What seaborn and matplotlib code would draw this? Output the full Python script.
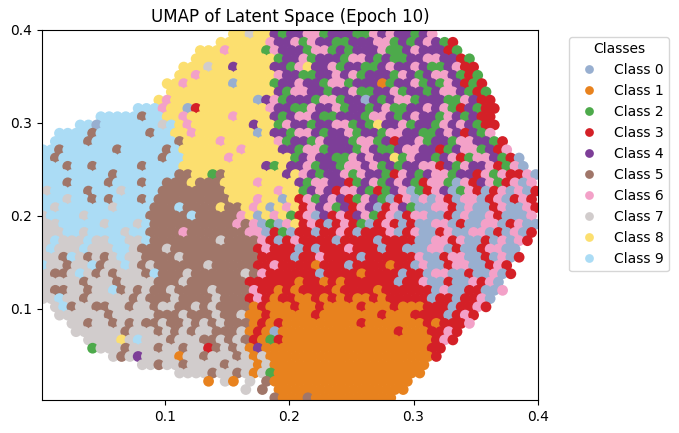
import matplotlib
matplotlib.use("Agg")
import matplotlib.pyplot as plt
import pandas as pd
import seaborn as sns

class_names = [f"Class {i}" for i in range(10)]
class_colors = ["#98afd0", "#e8821e", "#4daa4b", "#d42027", "#7d3e98",
                "#a07669", "#f3a1c8", "#d1cccc", "#fcdf6f", "#abdcf5"]

# class seen in each cell of a 60 x 45 grid over [0, 0.4] x [0, 0.4],
# top row first; row_start = first column used, "." = empty cell
row_start = [23, 21, 19, 18, 17, 16, 15, 15, 14, 11,
             7, 4, 2, 1, 0, 0, 0, 0, 0, 0,
             0, 0, 0, 0, 0, 0, 0, 0, 0, 0,
             0, 0, 0, 1, 2, 3, 4, 5, 6, 8,
             12, 16, 20, 24, 28]
row_cells = [
    "88788" "42446624442264644246",
    "8888886" "4462644224446624246423",
    "88868888" "264442662424446224644432",
    "888888888" "8244624442664242244664432",
    "88878848888" "4426844624422464464224633",
    "886888888888" "6442244646244426424664232",
    "8868888808888" "24464426624441244624264323",
    "888888888888" "842664424462244624424664232",
    "8688888888880" "4624442662440424662444226433",
    "999" "6880388888888" "6442264462442462244646234233",
    "99999599" "8868888868888" "424664224442664246442642433",
    "990999999979" "868888888488" "264424466242844624426464233",
    "99995999999599" "886888888808" "442664244624426644224643426",
    "9999599999999995" "88886888888" "6244264442662434462442664423",
    "99599999959999959" "888888868888" "4426624442642246644324662436",
    "95999999999999599" "8888868888888" "2464422646448264424632664230",
    "99959959999959999" "8888888888428" "44624426646242446634264463260",
    "9999999959999999" "55" "8825888888848" "64244626442364246624436263360",
    "999599995999599" "5558555" "888868888" "42664432462464236620634623606",
    "79999599979999" "55555555" "888888688" "24643664232460" "236402630360603",
    "99979959599959" "555555555" "88868808" "36246432642036" "060630660360363",
    "9799999979999" "55595555855" "8680868" "36462436403642" "006630600360063",
    "7999979999999" "55555955555" "6808682" "36043634623603" "660030600630006",
    "7799999799979" "555555555565" "602068" "36303632036303" "006603006603600",
    "7779979999799" "555565555555" "660320" "33033630333603" "600360066030603",
    "7977797799779" "5555555575555" "630363" "3330333303333" "00663600306063",
    "797779777997" "55575555555555" "3633303033363330330" "0066030036600",
    "7759757579775" "5557555555555" "3333033633330333333" "6003660030603",
    "97757795779757" "555555755555" "3363333133303333133" "060036600363",
    "75579757577759" "555755555575" "63333330333313333033" "06600300603",
    "77777577757777" "55575555555" "333333133131333333033" "6003006360",
    "7557757795757" "557555575555" "6" "331313333133331333333" "060033006",
    "7797757777757" "555755557555" "363" "133113131311313" "333303303360",
    "795775577577" "577557575555" "131" "113113111131113111" "33303363",
    "77777757777" "755575557557" "11311" "111311111113111" "33330363",
    "7757757575" "575575757555" "13131" "1111111131111111" "313336",
    "777777577" "757575775557" "13101" "11111111111113111" "3363",
    "77778797" "775777557575" "3123" "111111111111111111" "363",
    "2777577" "757757735757" "1411" "111111111111111111" "33",
    "75747" "777177577757" "1711" "111111111111111111" "3",
    "7757757777577" "7171" "111111111111111111",
    "777757757" "1721" "11111111111111111",
    "1.71.7.51" "1111111111111111",
    "7.5.1" "111111111111111",
    "511151111111111",
]

n_cols, n_rows = 60, 45
xs, ys, labels = [], [], []
for r, (start, cells) in enumerate(zip(row_start, row_cells)):
    shift = 0.25 if r % 2 else -0.25
    for i, ch in enumerate(cells):
        if ch == ".":
            continue
        c = start + i
        xs.append((c + 0.5 + shift) * 0.4 / n_cols)
        ys.append(0.4 - (r + 0.5) * 0.4 / n_rows)
        labels.append(class_names[int(ch)])

df = pd.DataFrame({"x": xs, "y": ys, "label": labels})

fig = plt.figure(figsize=(6.79, 4.33), dpi=100)
ax = fig.add_axes([0.062, 0.076, 0.730, 0.855])

sns.scatterplot(data=df, x="x", y="y", hue="label", hue_order=class_names,
                palette=dict(zip(class_names, class_colors)),
                s=60, linewidth=0, ax=ax, legend=False)

handles = [plt.Line2D([], [], marker="o", linestyle="", markersize=6.3,
                      markerfacecolor=col, markeredgewidth=0)
           for col in class_colors]
ax.legend(handles, class_names, title="Classes", bbox_to_anchor=(1.05, 1),
          loc="upper left")

ax.set_xlim(0.001, 0.4)
ax.set_ylim(0.002, 0.4)
ax.set_xticks([0.1, 0.2, 0.3, 0.4])
ax.set_yticks([0.1, 0.2, 0.3, 0.4])
ax.set_xlabel("")
ax.set_ylabel("")
ax.set_title("UMAP of Latent Space (Epoch 10)")

plt.savefig("out.png", dpi=100)
